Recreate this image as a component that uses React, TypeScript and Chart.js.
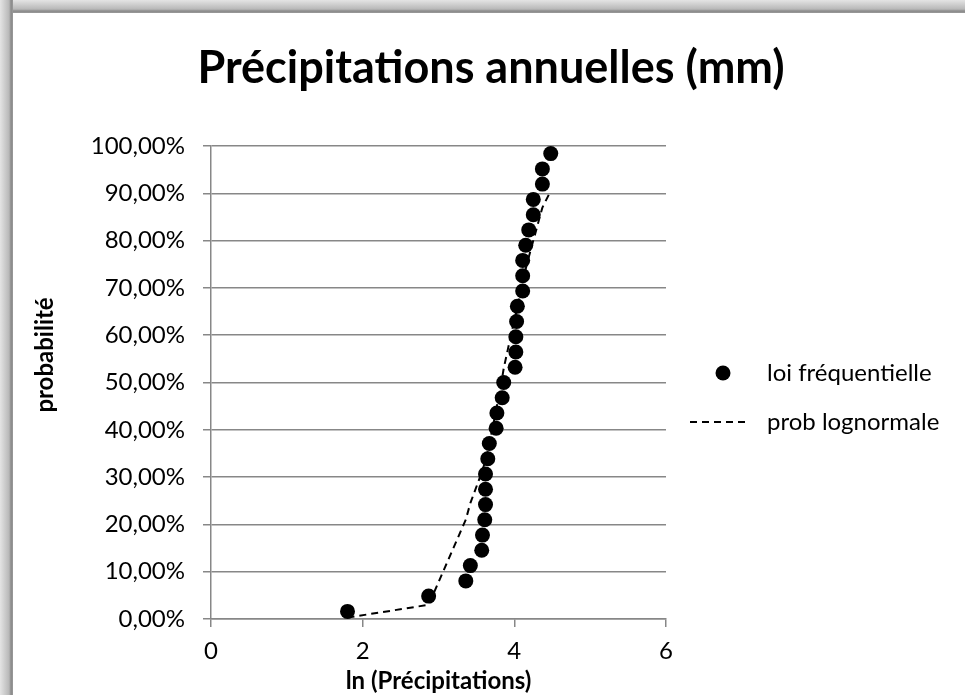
import React, { useEffect, useRef } from "react";
import { Chart, registerables } from "chart.js";

Chart.register(...registerables);

// ln(precipitation) values, sorted ascending (x of each point)
const lnPrecip = [
  1.80, 2.87, 3.36, 3.42, 3.57, 3.58, 3.61, 3.62, 3.62, 3.62, 3.65,
  3.67, 3.76, 3.77, 3.84, 3.86, 4.01, 4.02, 4.02, 4.03, 4.04, 4.11,
  4.11, 4.11, 4.15, 4.19, 4.25, 4.25, 4.37, 4.37, 4.48,
];

// empirical (frequency) probability of each point
const freqProb = [
  0.0161, 0.0484, 0.0806, 0.1129, 0.1452, 0.1774, 0.2097, 0.2419, 0.2742,
  0.3065, 0.3387, 0.371, 0.4032, 0.4355, 0.4677, 0.5, 0.5323, 0.5645,
  0.5968, 0.629, 0.6613, 0.6935, 0.7258, 0.7581, 0.7903, 0.8226, 0.8548,
  0.8871, 0.9194, 0.9516, 0.9839,
];

// lognormal probability at each point
const lognormProb = [
  0.003, 0.03, 0.21, 0.245, 0.31, 0.315, 0.33, 0.335, 0.335, 0.335, 0.355,
  0.37, 0.44, 0.45, 0.51, 0.53, 0.64, 0.645, 0.645, 0.65, 0.66, 0.71,
  0.71, 0.71, 0.74, 0.765, 0.8, 0.8, 0.87, 0.87, 0.905,
];

const TITLE = "Précipitations annuelles (mm)";
const X_TITLE = "ln (Précipitations)";
const Y_TITLE = "probabilité";
const SERIES_NAMES = ["loi fréquentielle", "prob lognormale"];

const FONT = "Lato, 'Open Sans', sans-serif";

const decor = {
  id: "decor",
  beforeDraw(chart: any) {
    const ctx = chart.ctx;
    const W = chart.width;
    const H = chart.height;
    ctx.save();
    ctx.fillStyle = "#ffffff";
    ctx.fillRect(0, 0, W, H);
    let g = ctx.createLinearGradient(0, 0, 0, 13);
    g.addColorStop(0, "#e4e4e4");
    g.addColorStop(0.7, "#b8b8b8");
    g.addColorStop(0.85, "#8a8a8a");
    g.addColorStop(1, "#9a9a9a");
    ctx.fillStyle = g;
    ctx.fillRect(0, 0, W, 13);
    g = ctx.createLinearGradient(0, 0, 13, 0);
    g.addColorStop(0, "#e4e4e4");
    g.addColorStop(0.7, "#b8b8b8");
    g.addColorStop(0.85, "#8a8a8a");
    g.addColorStop(1, "#9a9a9a");
    ctx.fillStyle = g;
    ctx.fillRect(0, 0, 13, H);
    ctx.restore();
  },
  afterDraw(chart: any) {
    const ctx = chart.ctx;
    const area = chart.chartArea;
    ctx.save();
    ctx.fillStyle = "#000";
    // title
    ctx.font = `bold 45px ${FONT}`;
    ctx.textAlign = "center";
    ctx.textBaseline = "middle";
    ctx.fillText(TITLE, 491, 68);
    // x axis title
    ctx.font = `bold 24px ${FONT}`;
    ctx.fillText(X_TITLE, (area.left + area.right) / 2, 681);
    // y axis title
    ctx.save();
    ctx.translate(45, 355);
    ctx.rotate(-Math.PI / 2);
    ctx.fillText(Y_TITLE, 0, 0);
    ctx.restore();
    // legend
    const ds0 = chart.data.datasets[0];
    const ds1 = chart.data.datasets[1];
    ctx.font = `24px ${FONT}`;
    ctx.textAlign = "left";
    ctx.beginPath();
    ctx.arc(723, 373, 7.5, 0, Math.PI * 2);
    ctx.fillStyle = ds0.backgroundColor;
    ctx.fill();
    ctx.fillStyle = "#000";
    ctx.fillText(SERIES_NAMES[0], 767, 373);
    ctx.beginPath();
    ctx.setLineDash(ds1.borderDash);
    ctx.lineWidth = ds1.borderWidth;
    ctx.strokeStyle = ds1.borderColor;
    ctx.moveTo(690, 422);
    ctx.lineTo(750, 422);
    ctx.stroke();
    ctx.setLineDash([]);
    ctx.fillText(SERIES_NAMES[1], 767, 422);
    ctx.restore();
  },
};

export default function App() {
  const ref = useRef<HTMLCanvasElement>(null);

  useEffect(() => {
    if (!ref.current) return;
    const chart = new Chart(ref.current, {
      type: "scatter",
      data: {
        datasets: [
          {
            label: SERIES_NAMES[0],
            data: lnPrecip.map((x, i) => ({ x, y: freqProb[i] })),
            showLine: false,
            pointRadius: 7.5,
            pointHoverRadius: 7.5,
            backgroundColor: "#000000",
            borderColor: "#000000",
            borderWidth: 0,
          },
          {
            label: SERIES_NAMES[1],
            data: lnPrecip.map((x, i) => ({ x, y: lognormProb[i] })),
            showLine: true,
            pointRadius: 0,
            borderColor: "#000000",
            backgroundColor: "#000000",
            borderWidth: 2,
            borderDash: [7, 5],
            tension: 0,
          },
        ],
      },
      options: {
        responsive: false,
        animation: false,
        devicePixelRatio: 1,
        layout: { padding: { left: 0, top: 146, right: 299, bottom: 0 } },
        plugins: {
          legend: { display: false },
          title: { display: false },
          tooltip: { enabled: false },
        },
        scales: {
          x: {
            type: "linear",
            min: 0,
            max: 6,
            afterFit: (s: any) => {
              s.height = 76;
            },
            ticks: {
              stepSize: 2,
              color: "#000",
              padding: 10,
              font: { family: FONT, size: 24 },
            },
            grid: {
              drawOnChartArea: false,
              drawTicks: true,
              tickLength: 8,
              color: "#878787",
              lineWidth: 1.5,
            },
            border: { display: true, color: "#878787", width: 1.5 },
          },
          y: {
            type: "linear",
            min: 0,
            max: 1,
            afterFit: (s: any) => {
              s.width = 211;
            },
            ticks: {
              stepSize: 0.1,
              color: "#000",
              padding: 18,
              font: { family: FONT, size: 24 },
              callback: (v: any) => (Number(v) * 100).toFixed(2).replace(".", ",") + "%",
            },
            grid: {
              drawOnChartArea: true,
              drawTicks: true,
              tickLength: 8,
              color: "#878787",
              lineWidth: 1.5,
            },
            border: { display: true, color: "#878787", width: 1.5 },
          },
        },
      },
      plugins: [decor],
    });
    return () => chart.destroy();
  }, []);

  return (
    <div style={{ position: "absolute", left: 0, top: 0, width: 965, height: 695 }}>
      <canvas ref={ref} width={965} height={695} style={{ display: "block" }} />
    </div>
  );
}
